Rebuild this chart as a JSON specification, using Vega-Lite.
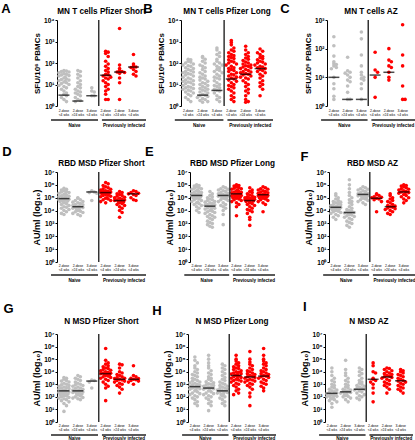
{
"$schema":"https://vega.github.io/schema/vega-lite/v6.json",
"padding":{"left":1,"top":2,"right":1,"bottom":0},
"config":{"font":"Liberation Sans","view":{"stroke":null},"axis":{"grid":false,"domainColor":"#000","tickColor":"#000","labelColor":"#000","titleColor":"#000"},"axisX":{"labels":false,"domain":false,"ticks":false,"title":null},"title":{"color":"#000"}},
"datasets":{
"grp":[{"t":"Naive","lo":1,"hi":3},{"t":"Previously infected","lo":4,"hi":6}],
"xl":[{"g":1,"t":"2-dose\n<4 wks"},{"g":2,"t":"2-dose\n>24 wks"},{"g":3,"t":"3-dose\n<4 wks"},{"g":4,"t":"2-dose\n<4 wks"},{"g":5,"t":"2-dose\n>24 wks"},{"g":6,"t":"3-dose\n<4 wks"}],
"A":[{"g":1,"v":45},{"g":1,"v":42},{"g":1,"v":40},{"g":1,"v":38},{"g":1,"v":35},{"g":1,"v":32},{"g":1,"v":30},{"g":1,"v":28},{"g":1,"v":26},{"g":1,"v":25},{"g":1,"v":22},{"g":1,"v":20},{"g":1,"v":18},{"g":1,"v":17},{"g":1,"v":16},{"g":1,"v":15},{"g":1,"v":14},{"g":1,"v":13},{"g":1,"v":12},{"g":1,"v":11},{"g":1,"v":10},{"g":1,"v":9},{"g":1,"v":8},{"g":1,"v":7},{"g":1,"v":6},{"g":1,"v":5},{"g":1,"v":4},{"g":1,"v":3.5},{"g":1,"v":3},{"g":1,"v":2.5},{"g":1,"v":2},{"g":1,"v":1.6},
{"g":2,"v":45},{"g":2,"v":40},{"g":2,"v":30},{"g":2,"v":25},{"g":2,"v":20},{"g":2,"v":15},{"g":2,"v":12},{"g":2,"v":10},{"g":2,"v":8},{"g":2,"v":7},{"g":2,"v":6},{"g":2,"v":5},{"g":2,"v":4.5},{"g":2,"v":4},{"g":2,"v":3.5},{"g":2,"v":3},{"g":2,"v":2.5},{"g":2,"v":2},{"g":2,"v":1.8},{"g":2,"v":1.6},
{"g":3,"v":7},{"g":3,"v":5},{"g":3,"v":4.5},{"g":3,"v":3},{"g":3,"v":3},
{"g":4,"v":350},{"g":4,"v":320},{"g":4,"v":280},{"g":4,"v":200},{"g":4,"v":120},{"g":4,"v":90},{"g":4,"v":70},{"g":4,"v":55},{"g":4,"v":45},{"g":4,"v":38},{"g":4,"v":30},{"g":4,"v":28},{"g":4,"v":25},{"g":4,"v":22},{"g":4,"v":20},{"g":4,"v":18},{"g":4,"v":15},{"g":4,"v":12},{"g":4,"v":10},{"g":4,"v":8},{"g":4,"v":6},{"g":4,"v":5},{"g":4,"v":3.5},{"g":4,"v":2},{"g":4,"v":2},
{"g":5,"v":4000},{"g":5,"v":80},{"g":5,"v":55},{"g":5,"v":45},{"g":5,"v":40},{"g":5,"v":38},{"g":5,"v":36},{"g":5,"v":33},{"g":5,"v":20},{"g":5,"v":12},{"g":5,"v":2},
{"g":6,"v":250},{"g":6,"v":90},{"g":6,"v":70},{"g":6,"v":65},{"g":6,"v":62},{"g":6,"v":50},{"g":6,"v":40},{"g":6,"v":30},{"g":6,"v":25}],
"B":[{"g":1,"v":150},{"g":1,"v":140},{"g":1,"v":120},{"g":1,"v":110},{"g":1,"v":100},{"g":1,"v":90},{"g":1,"v":80},{"g":1,"v":75},{"g":1,"v":70},{"g":1,"v":60},{"g":1,"v":55},{"g":1,"v":50},{"g":1,"v":45},{"g":1,"v":40},{"g":1,"v":38},{"g":1,"v":35},{"g":1,"v":32},{"g":1,"v":30},{"g":1,"v":28},{"g":1,"v":25},{"g":1,"v":22},{"g":1,"v":20},{"g":1,"v":18},{"g":1,"v":16},{"g":1,"v":15},{"g":1,"v":14},{"g":1,"v":13},{"g":1,"v":12},{"g":1,"v":11},{"g":1,"v":10},{"g":1,"v":9},{"g":1,"v":8},{"g":1,"v":7.5},{"g":1,"v":7},{"g":1,"v":6.5},{"g":1,"v":6},{"g":1,"v":5.5},{"g":1,"v":5},{"g":1,"v":4.5},{"g":1,"v":4},{"g":1,"v":3.5},{"g":1,"v":3},{"g":1,"v":2.5},{"g":1,"v":2},{"g":1,"v":1.6},
{"g":2,"v":200},{"g":2,"v":180},{"g":2,"v":150},{"g":2,"v":120},{"g":2,"v":100},{"g":2,"v":80},{"g":2,"v":70},{"g":2,"v":60},{"g":2,"v":50},{"g":2,"v":40},{"g":2,"v":35},{"g":2,"v":30},{"g":2,"v":25},{"g":2,"v":22},{"g":2,"v":20},{"g":2,"v":18},{"g":2,"v":16},{"g":2,"v":14},{"g":2,"v":12},{"g":2,"v":11},{"g":2,"v":10},{"g":2,"v":9},{"g":2,"v":8},{"g":2,"v":7},{"g":2,"v":6.5},{"g":2,"v":6},{"g":2,"v":5.5},{"g":2,"v":5},{"g":2,"v":4.5},{"g":2,"v":4},{"g":2,"v":3.5},{"g":2,"v":3.2},{"g":2,"v":3},{"g":2,"v":2.8},{"g":2,"v":2.5},{"g":2,"v":2.2},{"g":2,"v":2},{"g":2,"v":1.8},{"g":2,"v":1.6},{"g":2,"v":1.5},
{"g":3,"v":500},{"g":3,"v":400},{"g":3,"v":300},{"g":3,"v":250},{"g":3,"v":200},{"g":3,"v":150},{"g":3,"v":120},{"g":3,"v":100},{"g":3,"v":90},{"g":3,"v":80},{"g":3,"v":70},{"g":3,"v":60},{"g":3,"v":50},{"g":3,"v":45},{"g":3,"v":40},{"g":3,"v":35},{"g":3,"v":30},{"g":3,"v":25},{"g":3,"v":22},{"g":3,"v":20},{"g":3,"v":18},{"g":3,"v":15},{"g":3,"v":12},{"g":3,"v":10},{"g":3,"v":9},{"g":3,"v":8},{"g":3,"v":7},{"g":3,"v":6},{"g":3,"v":5.5},{"g":3,"v":5},{"g":3,"v":4},{"g":3,"v":3},{"g":3,"v":2.5},{"g":3,"v":2},{"g":3,"v":1.6},
{"g":4,"v":1100},{"g":4,"v":900},{"g":4,"v":700},{"g":4,"v":500},{"g":4,"v":400},{"g":4,"v":350},{"g":4,"v":300},{"g":4,"v":250},{"g":4,"v":220},{"g":4,"v":200},{"g":4,"v":180},{"g":4,"v":160},{"g":4,"v":140},{"g":4,"v":120},{"g":4,"v":110},{"g":4,"v":100},{"g":4,"v":90},{"g":4,"v":80},{"g":4,"v":70},{"g":4,"v":60},{"g":4,"v":55},{"g":4,"v":50},{"g":4,"v":45},{"g":4,"v":40},{"g":4,"v":35},{"g":4,"v":30},{"g":4,"v":28},{"g":4,"v":25},{"g":4,"v":22},{"g":4,"v":20},{"g":4,"v":18},{"g":4,"v":16},{"g":4,"v":14},{"g":4,"v":12},{"g":4,"v":10},{"g":4,"v":9},{"g":4,"v":8},{"g":4,"v":7},{"g":4,"v":6},{"g":4,"v":5},{"g":4,"v":4},{"g":4,"v":3},{"g":4,"v":2.5},{"g":4,"v":2},{"g":4,"v":1.6},
{"g":5,"v":600},{"g":5,"v":400},{"g":5,"v":300},{"g":5,"v":250},{"g":5,"v":200},{"g":5,"v":170},{"g":5,"v":150},{"g":5,"v":130},{"g":5,"v":110},{"g":5,"v":100},{"g":5,"v":90},{"g":5,"v":80},{"g":5,"v":75},{"g":5,"v":70},{"g":5,"v":65},{"g":5,"v":60},{"g":5,"v":55},{"g":5,"v":50},{"g":5,"v":45},{"g":5,"v":40},{"g":5,"v":38},{"g":5,"v":35},{"g":5,"v":32},{"g":5,"v":30},{"g":5,"v":28},{"g":5,"v":25},{"g":5,"v":22},{"g":5,"v":20},{"g":5,"v":18},{"g":5,"v":15},{"g":5,"v":12},{"g":5,"v":10},{"g":5,"v":8},{"g":5,"v":6},{"g":5,"v":5},{"g":5,"v":4},{"g":5,"v":3},{"g":5,"v":2},{"g":5,"v":1.6},{"g":5,"v":1.5},
{"g":6,"v":450},{"g":6,"v":350},{"g":6,"v":300},{"g":6,"v":250},{"g":6,"v":200},{"g":6,"v":180},{"g":6,"v":160},{"g":6,"v":140},{"g":6,"v":120},{"g":6,"v":110},{"g":6,"v":100},{"g":6,"v":90},{"g":6,"v":80},{"g":6,"v":70},{"g":6,"v":65},{"g":6,"v":60},{"g":6,"v":55},{"g":6,"v":50},{"g":6,"v":45},{"g":6,"v":40},{"g":6,"v":35},{"g":6,"v":30},{"g":6,"v":25},{"g":6,"v":20},{"g":6,"v":15},{"g":6,"v":12},{"g":6,"v":10},{"g":6,"v":8},{"g":6,"v":6},{"g":6,"v":3}],
"C":[{"g":1,"v":260},{"g":1,"v":126},{"g":1,"v":55},{"g":1,"v":35},{"g":1,"v":30},{"g":1,"v":28},{"g":1,"v":25},{"g":1,"v":22},{"g":1,"v":20},{"g":1,"v":10},{"g":1,"v":6},{"g":1,"v":4},{"g":1,"v":2.2},{"g":1,"v":1.7},
{"g":2,"v":50},{"g":2,"v":17},{"g":2,"v":15},{"g":2,"v":14},{"g":2,"v":12},{"g":2,"v":10},{"g":2,"v":8},{"g":2,"v":7},{"g":2,"v":5},{"g":2,"v":3},{"g":2,"v":1.7},{"g":2,"v":1.7},
{"g":3,"v":380},{"g":3,"v":220},{"g":3,"v":60},{"g":3,"v":25},{"g":3,"v":15},{"g":3,"v":12},{"g":3,"v":10},{"g":3,"v":9},{"g":3,"v":8},{"g":3,"v":6},{"g":3,"v":4},{"g":3,"v":1.7},
{"g":4,"v":75},{"g":4,"v":18},{"g":4,"v":15},{"g":4,"v":10},{"g":4,"v":2},
{"g":5,"v":100},{"g":5,"v":40},{"g":5,"v":35},{"g":5,"v":25},{"g":5,"v":22},{"g":5,"v":15},{"g":5,"v":10},{"g":5,"v":8},
{"g":6,"v":680},{"g":6,"v":60},{"g":6,"v":25},{"g":6,"v":5},{"g":6,"v":1.7},{"g":6,"v":1.7}],
"D":[{"g":1,"v":5.5e5},{"g":1,"v":4.5e5},{"g":1,"v":4e5},{"g":1,"v":3.5e5},{"g":1,"v":3e5},{"g":1,"v":2.8e5},{"g":1,"v":2.5e5},{"g":1,"v":2.2e5},{"g":1,"v":2e5},{"g":1,"v":1.8e5},{"g":1,"v":1.6e5},{"g":1,"v":1.4e5},{"g":1,"v":1.3e5},{"g":1,"v":1.2e5},{"g":1,"v":1.1e5},{"g":1,"v":1e5},{"g":1,"v":9e4},{"g":1,"v":8.5e4},{"g":1,"v":8e4},{"g":1,"v":7.5e4},{"g":1,"v":7e4},{"g":1,"v":6.5e4},{"g":1,"v":6e4},{"g":1,"v":5.5e4},{"g":1,"v":5e4},{"g":1,"v":4.5e4},{"g":1,"v":4e4},{"g":1,"v":3.5e4},{"g":1,"v":3e4},{"g":1,"v":2.5e4},{"g":1,"v":2e4},{"g":1,"v":1.8e4},{"g":1,"v":1.5e4},{"g":1,"v":1.2e4},{"g":1,"v":1e4},{"g":1,"v":8e3},{"g":1,"v":6e3},{"g":1,"v":5e3},
{"g":2,"v":1e5},{"g":2,"v":9e4},{"g":2,"v":7e4},{"g":2,"v":6e4},{"g":2,"v":5e4},{"g":2,"v":4.5e4},{"g":2,"v":4e4},{"g":2,"v":3.5e4},{"g":2,"v":3e4},{"g":2,"v":2.8e4},{"g":2,"v":2.5e4},{"g":2,"v":2.2e4},{"g":2,"v":2e4},{"g":2,"v":1.9e4},{"g":2,"v":1.8e4},{"g":2,"v":1.7e4},{"g":2,"v":1.5e4},{"g":2,"v":1.3e4},{"g":2,"v":1.2e4},{"g":2,"v":1e4},{"g":2,"v":9e3},{"g":2,"v":8e3},{"g":2,"v":7e3},{"g":2,"v":6e3},{"g":2,"v":5e3},{"g":2,"v":4e3},
{"g":3,"v":3.5e5},{"g":3,"v":2.8e5},{"g":3,"v":2.5e5},{"g":3,"v":2.2e5},{"g":3,"v":6e4},
{"g":4,"v":1.5e6},{"g":4,"v":1.2e6},{"g":4,"v":9e5},{"g":4,"v":7e5},{"g":4,"v":6e5},{"g":4,"v":5e5},{"g":4,"v":4.5e5},{"g":4,"v":4e5},{"g":4,"v":3.5e5},{"g":4,"v":3.2e5},{"g":4,"v":3e5},{"g":4,"v":2.8e5},{"g":4,"v":2.6e5},{"g":4,"v":2.5e5},{"g":4,"v":2.4e5},{"g":4,"v":2.2e5},{"g":4,"v":2e5},{"g":4,"v":1.8e5},{"g":4,"v":1.6e5},{"g":4,"v":1.5e5},{"g":4,"v":1.3e5},{"g":4,"v":1.2e5},{"g":4,"v":1e5},{"g":4,"v":9e4},{"g":4,"v":8e4},{"g":4,"v":7e4},{"g":4,"v":6e4},{"g":4,"v":5e4},{"g":4,"v":4e4},
{"g":5,"v":3e5},{"g":5,"v":2.5e5},{"g":5,"v":2e5},{"g":5,"v":1.8e5},{"g":5,"v":1.5e5},{"g":5,"v":1.3e5},{"g":5,"v":1.1e5},{"g":5,"v":1e5},{"g":5,"v":9e4},{"g":5,"v":8e4},{"g":5,"v":7e4},{"g":5,"v":6.5e4},{"g":5,"v":6e4},{"g":5,"v":5.5e4},{"g":5,"v":5e4},{"g":5,"v":4.5e4},{"g":5,"v":4e4},{"g":5,"v":3.5e4},{"g":5,"v":3e4},{"g":5,"v":2.5e4},{"g":5,"v":2e4},{"g":5,"v":1.5e4},{"g":5,"v":1e4},{"g":5,"v":7e3},{"g":5,"v":3e3},
{"g":6,"v":3.5e5},{"g":6,"v":3e5},{"g":6,"v":2.5e5},{"g":6,"v":2.2e5},{"g":6,"v":2e5},{"g":6,"v":1.8e5},{"g":6,"v":1.5e5},{"g":6,"v":1e5},{"g":6,"v":7e4},{"g":6,"v":6e4}],
"E":[{"g":1,"v":1e6},{"g":1,"v":9e5},{"g":1,"v":8e5},{"g":1,"v":7e5},{"g":1,"v":6e5},{"g":1,"v":5.5e5},{"g":1,"v":5e5},{"g":1,"v":4.5e5},{"g":1,"v":4e5},{"g":1,"v":3.5e5},{"g":1,"v":3e5},{"g":1,"v":2.8e5},{"g":1,"v":2.5e5},{"g":1,"v":2.2e5},{"g":1,"v":2e5},{"g":1,"v":1.9e5},{"g":1,"v":1.8e5},{"g":1,"v":1.7e5},{"g":1,"v":1.6e5},{"g":1,"v":1.5e5},{"g":1,"v":1.4e5},{"g":1,"v":1.3e5},{"g":1,"v":1.2e5},{"g":1,"v":1.1e5},{"g":1,"v":1e5},{"g":1,"v":9e4},{"g":1,"v":8e4},{"g":1,"v":7e4},{"g":1,"v":6e4},{"g":1,"v":5e4},{"g":1,"v":4.5e4},{"g":1,"v":4e4},{"g":1,"v":3.5e4},{"g":1,"v":3e4},{"g":1,"v":2.5e4},{"g":1,"v":2e4},{"g":1,"v":1.5e4},{"g":1,"v":1e4},{"g":1,"v":7e3},
{"g":2,"v":3e5},{"g":2,"v":2e5},{"g":2,"v":1.5e5},{"g":2,"v":1.2e5},{"g":2,"v":1e5},{"g":2,"v":8e4},{"g":2,"v":7e4},{"g":2,"v":6e4},{"g":2,"v":5e4},{"g":2,"v":4.5e4},{"g":2,"v":4e4},{"g":2,"v":3.5e4},{"g":2,"v":3e4},{"g":2,"v":2.8e4},{"g":2,"v":2.6e4},{"g":2,"v":2.4e4},{"g":2,"v":2.2e4},{"g":2,"v":2e4},{"g":2,"v":1.8e4},{"g":2,"v":1.6e4},{"g":2,"v":1.5e4},{"g":2,"v":1.3e4},{"g":2,"v":1.2e4},{"g":2,"v":1e4},{"g":2,"v":9e3},{"g":2,"v":8e3},{"g":2,"v":7e3},{"g":2,"v":6e3},{"g":2,"v":5e3},{"g":2,"v":4e3},{"g":2,"v":3.5e3},{"g":2,"v":3e3},{"g":2,"v":2.5e3},{"g":2,"v":2e3},{"g":2,"v":1.5e3},{"g":2,"v":1.2e3},{"g":2,"v":1e3},{"g":2,"v":800},{"g":2,"v":600},{"g":2,"v":500},
{"g":3,"v":7e5},{"g":3,"v":6e5},{"g":3,"v":5e5},{"g":3,"v":4.5e5},{"g":3,"v":4e5},{"g":3,"v":3.5e5},{"g":3,"v":3e5},{"g":3,"v":2.5e5},{"g":3,"v":2.2e5},{"g":3,"v":2e5},{"g":3,"v":1.8e5},{"g":3,"v":1.6e5},{"g":3,"v":1.5e5},{"g":3,"v":1.4e5},{"g":3,"v":1.3e5},{"g":3,"v":1.2e5},{"g":3,"v":1.1e5},{"g":3,"v":1e5},{"g":3,"v":9e4},{"g":3,"v":8e4},{"g":3,"v":7e4},{"g":3,"v":6e4},{"g":3,"v":5e4},{"g":3,"v":4e4},{"g":3,"v":3e4},{"g":3,"v":2.5e4},{"g":3,"v":2e4},{"g":3,"v":1.5e4},{"g":3,"v":1e4},{"g":3,"v":5e3},{"g":3,"v":800},
{"g":4,"v":1e6},{"g":4,"v":9e5},{"g":4,"v":8e5},{"g":4,"v":7e5},{"g":4,"v":6e5},{"g":4,"v":5.5e5},{"g":4,"v":5e5},{"g":4,"v":4.5e5},{"g":4,"v":4e5},{"g":4,"v":3.5e5},{"g":4,"v":3e5},{"g":4,"v":2.8e5},{"g":4,"v":2.6e5},{"g":4,"v":2.4e5},{"g":4,"v":2.2e5},{"g":4,"v":2e5},{"g":4,"v":1.9e5},{"g":4,"v":1.8e5},{"g":4,"v":1.7e5},{"g":4,"v":1.6e5},{"g":4,"v":1.5e5},{"g":4,"v":1.4e5},{"g":4,"v":1.3e5},{"g":4,"v":1.2e5},{"g":4,"v":1.1e5},{"g":4,"v":1e5},{"g":4,"v":9e4},{"g":4,"v":8e4},{"g":4,"v":7e4},{"g":4,"v":6e4},{"g":4,"v":5e4},{"g":4,"v":4e4},{"g":4,"v":3e4},{"g":4,"v":2e4},{"g":4,"v":4e3},
{"g":5,"v":6e5},{"g":5,"v":4e5},{"g":5,"v":3e5},{"g":5,"v":2.5e5},{"g":5,"v":2e5},{"g":5,"v":1.6e5},{"g":5,"v":1.4e5},{"g":5,"v":1.2e5},{"g":5,"v":1.1e5},{"g":5,"v":1e5},{"g":5,"v":9e4},{"g":5,"v":8.5e4},{"g":5,"v":8e4},{"g":5,"v":7.5e4},{"g":5,"v":7e4},{"g":5,"v":6.5e4},{"g":5,"v":6e4},{"g":5,"v":5.5e4},{"g":5,"v":5e4},{"g":5,"v":4.5e4},{"g":5,"v":4e4},{"g":5,"v":3.5e4},{"g":5,"v":3e4},{"g":5,"v":2.5e4},{"g":5,"v":2e4},{"g":5,"v":1.5e4},{"g":5,"v":1.2e4},{"g":5,"v":1e4},{"g":5,"v":8e3},{"g":5,"v":6e3},{"g":5,"v":3e3},{"g":5,"v":2e3},{"g":5,"v":700},
{"g":6,"v":7e5},{"g":6,"v":6e5},{"g":6,"v":5e5},{"g":6,"v":4.5e5},{"g":6,"v":4e5},{"g":6,"v":3.5e5},{"g":6,"v":3e5},{"g":6,"v":2.7e5},{"g":6,"v":2.4e5},{"g":6,"v":2.2e5},{"g":6,"v":2e5},{"g":6,"v":1.8e5},{"g":6,"v":1.7e5},{"g":6,"v":1.6e5},{"g":6,"v":1.5e5},{"g":6,"v":1.4e5},{"g":6,"v":1.3e5},{"g":6,"v":1.2e5},{"g":6,"v":1.1e5},{"g":6,"v":1e5},{"g":6,"v":9e4},{"g":6,"v":8e4},{"g":6,"v":7e4},{"g":6,"v":6e4},{"g":6,"v":5e4},{"g":6,"v":4e4},{"g":6,"v":3e4},{"g":6,"v":8e3}],
"F":[{"g":1,"v":2e5},{"g":1,"v":1.5e5},{"g":1,"v":1e5},{"g":1,"v":8e4},{"g":1,"v":6e4},{"g":1,"v":5e4},{"g":1,"v":4.5e4},{"g":1,"v":4e4},{"g":1,"v":3.5e4},{"g":1,"v":3e4},{"g":1,"v":2.8e4},{"g":1,"v":2.5e4},{"g":1,"v":2.2e4},{"g":1,"v":2e4},{"g":1,"v":1.9e4},{"g":1,"v":1.8e4},{"g":1,"v":1.7e4},{"g":1,"v":1.6e4},{"g":1,"v":1.5e4},{"g":1,"v":1.4e4},{"g":1,"v":1.3e4},{"g":1,"v":1.2e4},{"g":1,"v":1.1e4},{"g":1,"v":1e4},{"g":1,"v":9e3},{"g":1,"v":8e3},{"g":1,"v":7e3},{"g":1,"v":6e3},{"g":1,"v":5e3},{"g":1,"v":4e3},{"g":1,"v":3e3},{"g":1,"v":2e3},
{"g":2,"v":2.5e6},{"g":2,"v":1e6},{"g":2,"v":5e5},{"g":2,"v":2.5e5},{"g":2,"v":1.5e5},{"g":2,"v":1e5},{"g":2,"v":7e4},{"g":2,"v":5e4},{"g":2,"v":4e4},{"g":2,"v":3e4},{"g":2,"v":2e4},{"g":2,"v":1.5e4},{"g":2,"v":1.2e4},{"g":2,"v":1e4},{"g":2,"v":9e3},{"g":2,"v":8e3},{"g":2,"v":7e3},{"g":2,"v":6.5e3},{"g":2,"v":6e3},{"g":2,"v":5.5e3},{"g":2,"v":5e3},{"g":2,"v":4.5e3},{"g":2,"v":4e3},{"g":2,"v":3.5e3},{"g":2,"v":3e3},{"g":2,"v":2.5e3},{"g":2,"v":2e3},{"g":2,"v":1.5e3},{"g":2,"v":1.2e3},{"g":2,"v":1e3},{"g":2,"v":700},{"g":2,"v":500},
{"g":3,"v":7e5},{"g":3,"v":6e5},{"g":3,"v":5e5},{"g":3,"v":4.5e5},{"g":3,"v":4e5},{"g":3,"v":3.5e5},{"g":3,"v":3e5},{"g":3,"v":2.5e5},{"g":3,"v":2.2e5},{"g":3,"v":2e5},{"g":3,"v":1.9e5},{"g":3,"v":1.8e5},{"g":3,"v":1.7e5},{"g":3,"v":1.6e5},{"g":3,"v":1.5e5},{"g":3,"v":1.4e5},{"g":3,"v":1.3e5},{"g":3,"v":1.2e5},{"g":3,"v":1e5},{"g":3,"v":9e4},{"g":3,"v":8e4},{"g":3,"v":7e4},{"g":3,"v":6e4},{"g":3,"v":5e4},{"g":3,"v":4e4},{"g":3,"v":3e4},
{"g":4,"v":2e5},{"g":4,"v":1.8e5},{"g":4,"v":1.5e5},{"g":4,"v":1.2e5},{"g":4,"v":1.1e5},{"g":4,"v":1e5},{"g":4,"v":9e4},{"g":4,"v":8e4},{"g":4,"v":7e4},{"g":4,"v":5e4},{"g":4,"v":8e3},
{"g":5,"v":2e5},{"g":5,"v":1.5e5},{"g":5,"v":1e5},{"g":5,"v":8e4},{"g":5,"v":6e4},{"g":5,"v":5e4},{"g":5,"v":4e4},{"g":5,"v":3e4},{"g":5,"v":2.5e4},{"g":5,"v":2.2e4},{"g":5,"v":2e4},{"g":5,"v":1.8e4},{"g":5,"v":1.6e4},{"g":5,"v":1.4e4},{"g":5,"v":1.2e4},{"g":5,"v":1e4},{"g":5,"v":8e3},{"g":5,"v":6e3},{"g":5,"v":5e3},
{"g":6,"v":1e6},{"g":6,"v":9e5},{"g":6,"v":8e5},{"g":6,"v":7e5},{"g":6,"v":6e5},{"g":6,"v":5e5},{"g":6,"v":4.5e5},{"g":6,"v":4e5},{"g":6,"v":3.5e5},{"g":6,"v":3e5},{"g":6,"v":2.8e5},{"g":6,"v":2.5e5},{"g":6,"v":2.2e5},{"g":6,"v":2e5},{"g":6,"v":1.8e5},{"g":6,"v":1.5e5},{"g":6,"v":1.2e5},{"g":6,"v":1e5},{"g":6,"v":8e4},{"g":6,"v":6e4},{"g":6,"v":4e4}],
"G":[{"g":1,"v":3500},{"g":1,"v":3000},{"g":1,"v":2500},{"g":1,"v":2000},{"g":1,"v":1800},{"g":1,"v":1500},{"g":1,"v":1200},{"g":1,"v":1000},{"g":1,"v":900},{"g":1,"v":800},{"g":1,"v":700},{"g":1,"v":600},{"g":1,"v":550},{"g":1,"v":500},{"g":1,"v":450},{"g":1,"v":400},{"g":1,"v":350},{"g":1,"v":320},{"g":1,"v":300},{"g":1,"v":280},{"g":1,"v":260},{"g":1,"v":240},{"g":1,"v":220},{"g":1,"v":200},{"g":1,"v":180},{"g":1,"v":160},{"g":1,"v":150},{"g":1,"v":130},{"g":1,"v":120},{"g":1,"v":100},{"g":1,"v":90},{"g":1,"v":80},{"g":1,"v":70},{"g":1,"v":60},{"g":1,"v":50},{"g":1,"v":40},{"g":1,"v":30},{"g":1,"v":20},{"g":1,"v":7},
{"g":2,"v":5000},{"g":2,"v":4000},{"g":2,"v":3000},{"g":2,"v":2500},{"g":2,"v":2000},{"g":2,"v":1500},{"g":2,"v":1200},{"g":2,"v":1000},{"g":2,"v":900},{"g":2,"v":800},{"g":2,"v":700},{"g":2,"v":600},{"g":2,"v":500},{"g":2,"v":450},{"g":2,"v":400},{"g":2,"v":350},{"g":2,"v":320},{"g":2,"v":300},{"g":2,"v":280},{"g":2,"v":260},{"g":2,"v":240},{"g":2,"v":220},{"g":2,"v":200},{"g":2,"v":180},{"g":2,"v":160},{"g":2,"v":140},{"g":2,"v":120},{"g":2,"v":100},{"g":2,"v":90},{"g":2,"v":80},{"g":2,"v":70},{"g":2,"v":60},
{"g":3,"v":2200},{"g":3,"v":2000},{"g":3,"v":1500},{"g":3,"v":500},
{"g":4,"v":7e5},{"g":4,"v":8e4},{"g":4,"v":5e4},{"g":4,"v":4e4},{"g":4,"v":3e4},{"g":4,"v":2.5e4},{"g":4,"v":2e4},{"g":4,"v":1.8e4},{"g":4,"v":1.5e4},{"g":4,"v":1.3e4},{"g":4,"v":1.2e4},{"g":4,"v":1e4},{"g":4,"v":9000},{"g":4,"v":8000},{"g":4,"v":7500},{"g":4,"v":7000},{"g":4,"v":6500},{"g":4,"v":6000},{"g":4,"v":5500},{"g":4,"v":5000},{"g":4,"v":4500},{"g":4,"v":4000},{"g":4,"v":3500},{"g":4,"v":3000},{"g":4,"v":2500},{"g":4,"v":2000},{"g":4,"v":1500},{"g":4,"v":1000},{"g":4,"v":700},{"g":4,"v":500},{"g":4,"v":50},
{"g":5,"v":4e4},{"g":5,"v":3.5e4},{"g":5,"v":2e4},{"g":5,"v":1e4},{"g":5,"v":8000},{"g":5,"v":6000},{"g":5,"v":5000},{"g":5,"v":4000},{"g":5,"v":3500},{"g":5,"v":3000},{"g":5,"v":2800},{"g":5,"v":2500},{"g":5,"v":2200},{"g":5,"v":2000},{"g":5,"v":1800},{"g":5,"v":1500},{"g":5,"v":1200},{"g":5,"v":1000},{"g":5,"v":800},{"g":5,"v":600},{"g":5,"v":400},{"g":5,"v":200},
{"g":6,"v":3e4},{"g":6,"v":5000},{"g":6,"v":4000},{"g":6,"v":3000},{"g":6,"v":2800},{"g":6,"v":2500},{"g":6,"v":2300},{"g":6,"v":2000},{"g":6,"v":1800},{"g":6,"v":1500},{"g":6,"v":1000}],
"H":[{"g":1,"v":1.5e5},{"g":1,"v":8e4},{"g":1,"v":5e4},{"g":1,"v":3e4},{"g":1,"v":2e4},{"g":1,"v":1.5e4},{"g":1,"v":1e4},{"g":1,"v":8000},{"g":1,"v":6000},{"g":1,"v":5000},{"g":1,"v":4000},{"g":1,"v":3000},{"g":1,"v":2500},{"g":1,"v":2000},{"g":1,"v":1800},{"g":1,"v":1500},{"g":1,"v":1300},{"g":1,"v":1200},{"g":1,"v":1000},{"g":1,"v":900},{"g":1,"v":800},{"g":1,"v":700},{"g":1,"v":650},{"g":1,"v":600},{"g":1,"v":550},{"g":1,"v":500},{"g":1,"v":450},{"g":1,"v":400},{"g":1,"v":350},{"g":1,"v":300},{"g":1,"v":250},{"g":1,"v":200},{"g":1,"v":180},{"g":1,"v":150},{"g":1,"v":120},{"g":1,"v":100},{"g":1,"v":80},{"g":1,"v":60},{"g":1,"v":40},{"g":1,"v":30},{"g":1,"v":20},
{"g":2,"v":2e5},{"g":2,"v":1e5},{"g":2,"v":5e4},{"g":2,"v":3e4},{"g":2,"v":2e4},{"g":2,"v":1.2e4},{"g":2,"v":8000},{"g":2,"v":6000},{"g":2,"v":4000},{"g":2,"v":3000},{"g":2,"v":2500},{"g":2,"v":2000},{"g":2,"v":1600},{"g":2,"v":1300},{"g":2,"v":1100},{"g":2,"v":1000},{"g":2,"v":900},{"g":2,"v":800},{"g":2,"v":700},{"g":2,"v":600},{"g":2,"v":550},{"g":2,"v":500},{"g":2,"v":450},{"g":2,"v":400},{"g":2,"v":350},{"g":2,"v":300},{"g":2,"v":250},{"g":2,"v":200},{"g":2,"v":180},{"g":2,"v":150},{"g":2,"v":120},{"g":2,"v":100},{"g":2,"v":80},{"g":2,"v":60},{"g":2,"v":40},{"g":2,"v":30},{"g":2,"v":20},{"g":2,"v":8},
{"g":3,"v":4e4},{"g":3,"v":3e4},{"g":3,"v":2e4},{"g":3,"v":1.5e4},{"g":3,"v":1e4},{"g":3,"v":7000},{"g":3,"v":5000},{"g":3,"v":3500},{"g":3,"v":2500},{"g":3,"v":2000},{"g":3,"v":1500},{"g":3,"v":1200},{"g":3,"v":1000},{"g":3,"v":800},{"g":3,"v":700},{"g":3,"v":600},{"g":3,"v":500},{"g":3,"v":450},{"g":3,"v":400},{"g":3,"v":350},{"g":3,"v":300},{"g":3,"v":280},{"g":3,"v":250},{"g":3,"v":220},{"g":3,"v":200},{"g":3,"v":180},{"g":3,"v":150},{"g":3,"v":120},{"g":3,"v":100},{"g":3,"v":80},{"g":3,"v":60},{"g":3,"v":40},{"g":3,"v":30},{"g":3,"v":20},
{"g":4,"v":2e5},{"g":4,"v":1e5},{"g":4,"v":7e4},{"g":4,"v":5e4},{"g":4,"v":4e4},{"g":4,"v":3e4},{"g":4,"v":2.5e4},{"g":4,"v":2e4},{"g":4,"v":1.8e4},{"g":4,"v":1.5e4},{"g":4,"v":1.2e4},{"g":4,"v":1e4},{"g":4,"v":9000},{"g":4,"v":8000},{"g":4,"v":7000},{"g":4,"v":6500},{"g":4,"v":6000},{"g":4,"v":5500},{"g":4,"v":5000},{"g":4,"v":4500},{"g":4,"v":4000},{"g":4,"v":3500},{"g":4,"v":3000},{"g":4,"v":2800},{"g":4,"v":2500},{"g":4,"v":2200},{"g":4,"v":2000},{"g":4,"v":1800},{"g":4,"v":1500},{"g":4,"v":1200},{"g":4,"v":1000},{"g":4,"v":800},{"g":4,"v":600},{"g":4,"v":400},{"g":4,"v":300},{"g":4,"v":200},{"g":4,"v":150},
{"g":5,"v":4e5},{"g":5,"v":1e5},{"g":5,"v":6e4},{"g":5,"v":4e4},{"g":5,"v":3e4},{"g":5,"v":2e4},{"g":5,"v":1.5e4},{"g":5,"v":1.2e4},{"g":5,"v":1e4},{"g":5,"v":8000},{"g":5,"v":7000},{"g":5,"v":6000},{"g":5,"v":5000},{"g":5,"v":4500},{"g":5,"v":4000},{"g":5,"v":3500},{"g":5,"v":3000},{"g":5,"v":2500},{"g":5,"v":2200},{"g":5,"v":2000},{"g":5,"v":1800},{"g":5,"v":1500},{"g":5,"v":1200},{"g":5,"v":1000},{"g":5,"v":800},{"g":5,"v":600},{"g":5,"v":400},{"g":5,"v":200},{"g":5,"v":100},{"g":5,"v":20},
{"g":6,"v":7e5},{"g":6,"v":2e5},{"g":6,"v":1e5},{"g":6,"v":7e4},{"g":6,"v":5e4},{"g":6,"v":4e4},{"g":6,"v":3e4},{"g":6,"v":2e4},{"g":6,"v":1.5e4},{"g":6,"v":1.2e4},{"g":6,"v":1e4},{"g":6,"v":8000},{"g":6,"v":7000},{"g":6,"v":6000},{"g":6,"v":5000},{"g":6,"v":4500},{"g":6,"v":4000},{"g":6,"v":3500},{"g":6,"v":3000},{"g":6,"v":2500},{"g":6,"v":2000},{"g":6,"v":1500},{"g":6,"v":1200},{"g":6,"v":1000},{"g":6,"v":700},{"g":6,"v":500},{"g":6,"v":300}],
"I":[{"g":1,"v":2e4},{"g":1,"v":1e4},{"g":1,"v":5000},{"g":1,"v":3000},{"g":1,"v":2000},{"g":1,"v":1500},{"g":1,"v":1000},{"g":1,"v":800},{"g":1,"v":600},{"g":1,"v":500},{"g":1,"v":400},{"g":1,"v":350},{"g":1,"v":300},{"g":1,"v":250},{"g":1,"v":220},{"g":1,"v":200},{"g":1,"v":180},{"g":1,"v":160},{"g":1,"v":150},{"g":1,"v":140},{"g":1,"v":130},{"g":1,"v":120},{"g":1,"v":110},{"g":1,"v":100},{"g":1,"v":90},{"g":1,"v":80},{"g":1,"v":70},{"g":1,"v":60},{"g":1,"v":50},{"g":1,"v":40},{"g":1,"v":30},{"g":1,"v":15},
{"g":2,"v":8e4},{"g":2,"v":1.5e4},{"g":2,"v":8000},{"g":2,"v":5000},{"g":2,"v":3000},{"g":2,"v":2000},{"g":2,"v":1500},{"g":2,"v":1000},{"g":2,"v":800},{"g":2,"v":600},{"g":2,"v":500},{"g":2,"v":400},{"g":2,"v":350},{"g":2,"v":300},{"g":2,"v":280},{"g":2,"v":250},{"g":2,"v":220},{"g":2,"v":200},{"g":2,"v":180},{"g":2,"v":150},{"g":2,"v":130},{"g":2,"v":110},{"g":2,"v":100},{"g":2,"v":80},{"g":2,"v":60},{"g":2,"v":40},
{"g":3,"v":2e4},{"g":3,"v":1.5e4},{"g":3,"v":1e4},{"g":3,"v":7000},{"g":3,"v":5000},{"g":3,"v":3000},{"g":3,"v":2000},{"g":3,"v":1500},{"g":3,"v":1200},{"g":3,"v":1000},{"g":3,"v":800},{"g":3,"v":700},{"g":3,"v":600},{"g":3,"v":500},{"g":3,"v":450},{"g":3,"v":400},{"g":3,"v":350},{"g":3,"v":300},{"g":3,"v":250},{"g":3,"v":200},{"g":3,"v":150},{"g":3,"v":120},{"g":3,"v":100},{"g":3,"v":80},{"g":3,"v":60},
{"g":4,"v":5e4},{"g":4,"v":3e4},{"g":4,"v":1e4},{"g":4,"v":8000},{"g":4,"v":3000},{"g":4,"v":2500},{"g":4,"v":2000},{"g":4,"v":1500},{"g":4,"v":1000},{"g":4,"v":500},{"g":4,"v":200},{"g":4,"v":40},
{"g":5,"v":2e4},{"g":5,"v":1.8e4},{"g":5,"v":1.5e4},{"g":5,"v":1.2e4},{"g":5,"v":1e4},{"g":5,"v":8000},{"g":5,"v":7000},{"g":5,"v":6000},{"g":5,"v":5000},{"g":5,"v":4500},{"g":5,"v":4000},{"g":5,"v":3500},{"g":5,"v":3000},{"g":5,"v":2500},{"g":5,"v":2000},{"g":5,"v":1500},{"g":5,"v":1200},{"g":5,"v":1000},{"g":5,"v":800},{"g":5,"v":600},{"g":5,"v":400},{"g":5,"v":200},
{"g":6,"v":1.5e4},{"g":6,"v":1.2e4},{"g":6,"v":1e4},{"g":6,"v":8000},{"g":6,"v":6000},{"g":6,"v":5000},{"g":6,"v":4000},{"g":6,"v":3000},{"g":6,"v":2500},{"g":6,"v":2000},{"g":6,"v":1800},{"g":6,"v":1500},{"g":6,"v":1200},{"g":6,"v":1000},{"g":6,"v":800},{"g":6,"v":600},{"g":6,"v":500},{"g":6,"v":400},{"g":6,"v":300},{"g":6,"v":200}]
},
"vconcat":[
{"hconcat":[
{"title":{"text":"A","orient":"left","anchor":"end","angle":0,"align":"left","baseline":"top","fontSize":13,"fontWeight":"bold","offset":23,"dy":-4},
 "vconcat":[{"width":89,"height":86,"title":{"text":"MN T cells Pfizer Short","fontSize":8.2,"fontWeight":"bold","offset":1,"frame":"group"},
 "layer":[
 {"data":{"name":"A"},"transform":[{"calculate":"floor(log(datum.v)/LN10/0.19)","as":"b"},{"window":[{"op":"row_number","as":"r"}],"groupby":["g","b"],"sort":[{"field":"v","order":"descending"}]},{"calculate":"datum.g+[0,1,-1,2,-2,0.5,-0.5,1.5,-1.5][(datum.r-1)%9]*0.18","as":"x"}],
  "mark":{"type":"circle","size":13,"opacity":1},
  "encoding":{"x":{"field":"x","type":"quantitative","scale":{"domain":[0.5,6.9],"nice":false,"zero":false}},
  "y":{"field":"v","type":"quantitative","scale":{"type":"log","domain":[1,10000],"nice":false},"axis":{"values":[1,10,100,1000,10000],"labelExpr":"'10'+['⁰','¹','²','³','⁴','⁵','⁶','⁷'][round(log(datum.value)/LN10)]","title":"SFU/10⁶ PBMCs","titleFontSize":8,"titleFontWeight":"bold","titlePadding":2,"labelFontSize":6.5,"labelFontWeight":"bold","labelPadding":1,"tickSize":2}},
  "color":{"condition":{"test":"datum.g<=3","value":"#bfbfbf"},"value":"#ff0000"}}},
 {"data":{"values":[{}]},"mark":{"type":"rule","color":"#333","strokeWidth":1.5},"encoding":{"x":{"datum":3.5,"type":"quantitative"}}},
 {"data":{"values":[{"g":1,"m":3.2},{"g":2,"m":1.7},{"g":3,"m":3},{"g":4,"m":27},{"g":5,"m":38},{"g":6,"m":65}]},"mark":{"type":"tick","orient":"horizontal","size":11,"thickness":1.5,"color":"#000"},"encoding":{"x":{"field":"g","type":"quantitative"},"y":{"field":"m","type":"quantitative"}}},
 {"data":{"name":"xl"},"mark":{"type":"text","fontSize":3.4,"lineBreak":"\n","baseline":"top","lineHeight":4},"encoding":{"x":{"field":"g","type":"quantitative"},"y":{"datum":0.725,"type":"quantitative"},"text":{"field":"t"}}},
 {"data":{"name":"grp"},"transform":[{"calculate":"datum.lo*1.22-1.15","as":"a"},{"calculate":"datum.hi*1.15","as":"b2"}],"mark":{"type":"rule","strokeWidth":1.5,"color":"#222"},"encoding":{"x":{"field":"a","type":"quantitative"},"x2":{"field":"b2"},"y":{"datum":0.223,"type":"quantitative"}}},
 {"data":{"name":"grp"},"transform":[{"calculate":"(datum.lo*1.22-1.15+datum.hi*1.15)/2","as":"c"}],"mark":{"type":"text","fontSize":4.6,"fontWeight":"bold","baseline":"middle"},"encoding":{"x":{"field":"c","type":"quantitative"},"y":{"datum":0.121,"type":"quantitative"},"text":{"field":"t"}}}
 ]}]},
{"hconcat":[
{"title":{"text":"B","orient":"left","anchor":"end","angle":0,"align":"left","baseline":"top","fontSize":13,"fontWeight":"bold","offset":5,"dy":-4},
 "vconcat":[{"width":92,"height":86,"title":{"text":"MN T cells Pfizer Long","fontSize":8.2,"fontWeight":"bold","offset":1,"frame":"group"},
 "layer":[
 {"data":{"name":"B"},"transform":[{"calculate":"floor(log(datum.v)/LN10/0.19)","as":"b"},{"window":[{"op":"row_number","as":"r"}],"groupby":["g","b"],"sort":[{"field":"v","order":"descending"}]},{"calculate":"datum.g+[0,1,-1,2,-2,0.5,-0.5,1.5,-1.5][(datum.r-1)%9]*0.18","as":"x"}],
  "mark":{"type":"circle","size":13,"opacity":1},
  "encoding":{"x":{"field":"x","type":"quantitative","scale":{"domain":[0.5,6.9],"nice":false,"zero":false}},
  "y":{"field":"v","type":"quantitative","scale":{"type":"log","domain":[1,10000],"nice":false},"axis":{"values":[1,10,100,1000,10000],"labelExpr":"'10'+['⁰','¹','²','³','⁴','⁵','⁶','⁷'][round(log(datum.value)/LN10)]","title":"SFU/10⁶ PBMCs","titleFontSize":8,"titleFontWeight":"bold","titlePadding":2,"labelFontSize":6.5,"labelFontWeight":"bold","labelPadding":1,"tickSize":2}},
  "color":{"condition":{"test":"datum.g<=3","value":"#bfbfbf"},"value":"#ff0000"}}},
 {"data":{"values":[{}]},"mark":{"type":"rule","color":"#333","strokeWidth":1.5},"encoding":{"x":{"datum":3.5,"type":"quantitative"}}},
 {"data":{"values":[{"g":2,"m":3.2},{"g":3,"m":5.3},{"g":4,"m":18},{"g":5,"m":30},{"g":6,"m":55}]},"mark":{"type":"tick","orient":"horizontal","size":11,"thickness":1.5,"color":"#000"},"encoding":{"x":{"field":"g","type":"quantitative"},"y":{"field":"m","type":"quantitative"}}},
 {"data":{"name":"xl"},"mark":{"type":"text","fontSize":3.4,"lineBreak":"\n","baseline":"top","lineHeight":4},"encoding":{"x":{"field":"g","type":"quantitative"},"y":{"datum":0.725,"type":"quantitative"},"text":{"field":"t"}}},
 {"data":{"name":"grp"},"transform":[{"calculate":"datum.lo*1.22-1.15","as":"a"},{"calculate":"datum.hi*1.15","as":"b2"}],"mark":{"type":"rule","strokeWidth":1.5,"color":"#222"},"encoding":{"x":{"field":"a","type":"quantitative"},"x2":{"field":"b2"},"y":{"datum":0.223,"type":"quantitative"}}},
 {"data":{"name":"grp"},"transform":[{"calculate":"(datum.lo*1.22-1.15+datum.hi*1.15)/2","as":"c"}],"mark":{"type":"text","fontSize":4.6,"fontWeight":"bold","baseline":"middle"},"encoding":{"x":{"field":"c","type":"quantitative"},"y":{"datum":0.121,"type":"quantitative"},"text":{"field":"t"}}}
 ]}]},
{"title":{"text":"C","orient":"left","anchor":"end","angle":0,"align":"left","baseline":"top","fontSize":13,"fontWeight":"bold","offset":15,"dy":-4},
 "vconcat":[{"width":88,"height":86,"title":{"text":"MN T cells AZ","fontSize":8.2,"fontWeight":"bold","offset":1,"frame":"group"},
 "layer":[
 {"data":{"name":"C"},"transform":[{"calculate":"floor(log(datum.v)/LN10/0.14)","as":"b"},{"window":[{"op":"row_number","as":"r"}],"groupby":["g","b"],"sort":[{"field":"v","order":"descending"}]},{"calculate":"datum.g+[0,1,-1,2,-2,0.5,-0.5,1.5,-1.5][(datum.r-1)%9]*0.18","as":"x"}],
  "mark":{"type":"circle","size":13,"opacity":1},
  "encoding":{"x":{"field":"x","type":"quantitative","scale":{"domain":[0.5,6.9],"nice":false,"zero":false}},
  "y":{"field":"v","type":"quantitative","scale":{"type":"log","domain":[1,1000],"nice":false},"axis":{"values":[1,10,100,1000],"labelExpr":"'10'+['⁰','¹','²','³','⁴','⁵','⁶','⁷'][round(log(datum.value)/LN10)]","title":"SFU/10⁶ PBMCs","titleFontSize":8,"titleFontWeight":"bold","titlePadding":2,"labelFontSize":6.5,"labelFontWeight":"bold","labelPadding":1,"tickSize":2}},
  "color":{"condition":{"test":"datum.g<=3","value":"#bfbfbf"},"value":"#ff0000"}}},
 {"data":{"values":[{}]},"mark":{"type":"rule","color":"#333","strokeWidth":1.5},"encoding":{"x":{"datum":3.5,"type":"quantitative"}}},
 {"data":{"values":[{"g":1,"m":10},{"g":2,"m":1.7},{"g":3,"m":1.7},{"g":4,"m":12},{"g":5,"m":15}]},"mark":{"type":"tick","orient":"horizontal","size":11,"thickness":1.5,"color":"#000"},"encoding":{"x":{"field":"g","type":"quantitative"},"y":{"field":"m","type":"quantitative"}}},
 {"data":{"name":"xl"},"mark":{"type":"text","fontSize":3.4,"lineBreak":"\n","baseline":"top","lineHeight":4},"encoding":{"x":{"field":"g","type":"quantitative"},"y":{"datum":0.786,"type":"quantitative"},"text":{"field":"t"}}},
 {"data":{"name":"grp"},"transform":[{"calculate":"datum.lo*1.22-1.15","as":"a"},{"calculate":"datum.hi*1.15","as":"b2"}],"mark":{"type":"rule","strokeWidth":1.5,"color":"#222"},"encoding":{"x":{"field":"a","type":"quantitative"},"x2":{"field":"b2"},"y":{"datum":0.325,"type":"quantitative"}}},
 {"data":{"name":"grp"},"transform":[{"calculate":"(datum.lo*1.22-1.15+datum.hi*1.15)/2","as":"c"}],"mark":{"type":"text","fontSize":4.6,"fontWeight":"bold","baseline":"middle"},"encoding":{"x":{"field":"c","type":"quantitative"},"y":{"datum":0.206,"type":"quantitative"},"text":{"field":"t"}}}
 ]}]}
],"spacing":6}
],"spacing":-4},
{"hconcat":[
{"title":{"text":"D","orient":"left","anchor":"end","angle":0,"align":"left","baseline":"top","fontSize":13,"fontWeight":"bold","offset":21,"dy":-13},
 "vconcat":[{"width":89,"height":90,"title":{"text":"RBD MSD Pfizer Short","fontSize":8.2,"fontWeight":"bold","offset":1,"frame":"group"},
 "layer":[
 {"data":{"name":"D"},"transform":[{"calculate":"floor(log(datum.v)/LN10/0.31)","as":"b"},{"window":[{"op":"row_number","as":"r"}],"groupby":["g","b"],"sort":[{"field":"v","order":"descending"}]},{"calculate":"datum.g+[0,1,-1,2,-2,0.5,-0.5,1.5,-1.5][(datum.r-1)%9]*0.18","as":"x"}],
  "mark":{"type":"circle","size":13,"opacity":1},
  "encoding":{"x":{"field":"x","type":"quantitative","scale":{"domain":[0.5,6.9],"nice":false,"zero":false}},
  "y":{"field":"v","type":"quantitative","scale":{"type":"log","domain":[1,10000000],"nice":false},"axis":{"values":[1,10,100,1000,10000,100000,1000000,10000000],"labelExpr":"'10'+['⁰','¹','²','³','⁴','⁵','⁶','⁷'][round(log(datum.value)/LN10)]","title":"AU/ml (log₁₀)","titleFontSize":9,"titleFontWeight":"bold","titlePadding":2,"labelFontSize":6.5,"labelFontWeight":"bold","labelPadding":1,"tickSize":2}},
  "color":{"condition":{"test":"datum.g<=3","value":"#bfbfbf"},"value":"#ff0000"}}},
 {"data":{"values":[{}]},"mark":{"type":"rule","color":"#333","strokeWidth":1.5},"encoding":{"x":{"datum":3.5,"type":"quantitative"}}},
 {"data":{"values":[{"g":1,"m":8.5e4},{"g":2,"m":2e4},{"g":3,"m":2.8e5},{"g":4,"m":2.5e5},{"g":5,"m":6e4},{"g":6,"m":2e5}]},"mark":{"type":"tick","orient":"horizontal","size":11,"thickness":1.5,"color":"#000"},"encoding":{"x":{"field":"g","type":"quantitative"},"y":{"field":"m","type":"quantitative"}}},
 {"data":{"name":"xl"},"mark":{"type":"text","fontSize":3.4,"lineBreak":"\n","baseline":"top","lineHeight":4},"encoding":{"x":{"field":"g","type":"quantitative"},"y":{"datum":0.7,"type":"quantitative"},"text":{"field":"t"}}},
 {"data":{"name":"grp"},"transform":[{"calculate":"datum.lo*1.22-1.15","as":"a"},{"calculate":"datum.hi*1.15","as":"b2"}],"mark":{"type":"rule","strokeWidth":1.5,"color":"#222"},"encoding":{"x":{"field":"a","type":"quantitative"},"x2":{"field":"b2"},"y":{"datum":0.098,"type":"quantitative"}}},
 {"data":{"name":"grp"},"transform":[{"calculate":"(datum.lo*1.22-1.15+datum.hi*1.15)/2","as":"c"}],"mark":{"type":"text","fontSize":4.6,"fontWeight":"bold","baseline":"middle"},"encoding":{"x":{"field":"c","type":"quantitative"},"y":{"datum":0.036,"type":"quantitative"},"text":{"field":"t"}}}
 ]}]},
{"hconcat":[
{"title":{"text":"E","orient":"left","anchor":"end","angle":0,"align":"left","baseline":"top","fontSize":13,"fontWeight":"bold","offset":12,"dy":-13},
 "vconcat":[{"width":85,"height":90,"title":{"text":"RBD MSD Pfizer Long","fontSize":8.2,"fontWeight":"bold","offset":1,"frame":"group"},
 "layer":[
 {"data":{"name":"E"},"transform":[{"calculate":"floor(log(datum.v)/LN10/0.31)","as":"b"},{"window":[{"op":"row_number","as":"r"}],"groupby":["g","b"],"sort":[{"field":"v","order":"descending"}]},{"calculate":"datum.g+[0,1,-1,2,-2,0.5,-0.5,1.5,-1.5][(datum.r-1)%9]*0.18","as":"x"}],
  "mark":{"type":"circle","size":13,"opacity":1},
  "encoding":{"x":{"field":"x","type":"quantitative","scale":{"domain":[0.5,6.9],"nice":false,"zero":false}},
  "y":{"field":"v","type":"quantitative","scale":{"type":"log","domain":[1,10000000],"nice":false},"axis":{"values":[1,10,100,1000,10000,100000,1000000,10000000],"labelExpr":"'10'+['⁰','¹','²','³','⁴','⁵','⁶','⁷'][round(log(datum.value)/LN10)]","title":"AU/ml (log₁₀)","titleFontSize":9,"titleFontWeight":"bold","titlePadding":2,"labelFontSize":6.5,"labelFontWeight":"bold","labelPadding":1,"tickSize":2}},
  "color":{"condition":{"test":"datum.g<=3","value":"#bfbfbf"},"value":"#ff0000"}}},
 {"data":{"values":[{}]},"mark":{"type":"rule","color":"#333","strokeWidth":1.5},"encoding":{"x":{"datum":3.5,"type":"quantitative"}}},
 {"data":{"values":[{"g":1,"m":1.5e5},{"g":2,"m":2.2e4},{"g":3,"m":1.5e5},{"g":4,"m":2e5},{"g":5,"m":6e4},{"g":6,"m":1.7e5}]},"mark":{"type":"tick","orient":"horizontal","size":11,"thickness":1.5,"color":"#000"},"encoding":{"x":{"field":"g","type":"quantitative"},"y":{"field":"m","type":"quantitative"}}},
 {"data":{"name":"xl"},"mark":{"type":"text","fontSize":3.4,"lineBreak":"\n","baseline":"top","lineHeight":4},"encoding":{"x":{"field":"g","type":"quantitative"},"y":{"datum":0.7,"type":"quantitative"},"text":{"field":"t"}}},
 {"data":{"name":"grp"},"transform":[{"calculate":"datum.lo*1.22-1.15","as":"a"},{"calculate":"datum.hi*1.15","as":"b2"}],"mark":{"type":"rule","strokeWidth":1.5,"color":"#222"},"encoding":{"x":{"field":"a","type":"quantitative"},"x2":{"field":"b2"},"y":{"datum":0.098,"type":"quantitative"}}},
 {"data":{"name":"grp"},"transform":[{"calculate":"(datum.lo*1.22-1.15+datum.hi*1.15)/2","as":"c"}],"mark":{"type":"text","fontSize":4.6,"fontWeight":"bold","baseline":"middle"},"encoding":{"x":{"field":"c","type":"quantitative"},"y":{"datum":0.036,"type":"quantitative"},"text":{"field":"t"}}}
 ]}]},
{"title":{"text":"F","orient":"left","anchor":"end","angle":0,"align":"left","baseline":"top","fontSize":13,"fontWeight":"bold","offset":-4,"dy":-8},
 "vconcat":[{"width":87,"height":90,"title":{"text":"RBD MSD AZ","fontSize":8.2,"fontWeight":"bold","offset":1,"frame":"group"},
 "layer":[
 {"data":{"name":"F"},"transform":[{"calculate":"floor(log(datum.v)/LN10/0.31)","as":"b"},{"window":[{"op":"row_number","as":"r"}],"groupby":["g","b"],"sort":[{"field":"v","order":"descending"}]},{"calculate":"datum.g+[0,1,-1,2,-2,0.5,-0.5,1.5,-1.5][(datum.r-1)%9]*0.18","as":"x"}],
  "mark":{"type":"circle","size":13,"opacity":1},
  "encoding":{"x":{"field":"x","type":"quantitative","scale":{"domain":[0.5,6.9],"nice":false,"zero":false}},
  "y":{"field":"v","type":"quantitative","scale":{"type":"log","domain":[1,10000000],"nice":false},"axis":{"values":[1,10,100,1000,10000,100000,1000000,10000000],"labelExpr":"'10'+['⁰','¹','²','³','⁴','⁵','⁶','⁷'][round(log(datum.value)/LN10)]","title":"AU/ml (log₁₀)","titleFontSize":9,"titleFontWeight":"bold","titlePadding":2,"labelFontSize":6.5,"labelFontWeight":"bold","labelPadding":1,"tickSize":2}},
  "color":{"condition":{"test":"datum.g<=3","value":"#bfbfbf"},"value":"#ff0000"}}},
 {"data":{"values":[{}]},"mark":{"type":"rule","color":"#333","strokeWidth":1.5},"encoding":{"x":{"datum":3.5,"type":"quantitative"}}},
 {"data":{"values":[{"g":1,"m":1.8e4},{"g":2,"m":7e3},{"g":3,"m":1.8e5},{"g":4,"m":9e4},{"g":5,"m":2e4},{"g":6,"m":2.8e5}]},"mark":{"type":"tick","orient":"horizontal","size":11,"thickness":1.5,"color":"#000"},"encoding":{"x":{"field":"g","type":"quantitative"},"y":{"field":"m","type":"quantitative"}}},
 {"data":{"name":"xl"},"mark":{"type":"text","fontSize":3.4,"lineBreak":"\n","baseline":"top","lineHeight":4},"encoding":{"x":{"field":"g","type":"quantitative"},"y":{"datum":0.7,"type":"quantitative"},"text":{"field":"t"}}},
 {"data":{"name":"grp"},"transform":[{"calculate":"datum.lo*1.22-1.15","as":"a"},{"calculate":"datum.hi*1.15","as":"b2"}],"mark":{"type":"rule","strokeWidth":1.5,"color":"#222"},"encoding":{"x":{"field":"a","type":"quantitative"},"x2":{"field":"b2"},"y":{"datum":0.098,"type":"quantitative"}}},
 {"data":{"name":"grp"},"transform":[{"calculate":"(datum.lo*1.22-1.15+datum.hi*1.15)/2","as":"c"}],"mark":{"type":"text","fontSize":4.6,"fontWeight":"bold","baseline":"middle"},"encoding":{"x":{"field":"c","type":"quantitative"},"y":{"datum":0.036,"type":"quantitative"},"text":{"field":"t"}}}
 ]}]}
],"spacing":24}
],"spacing":-3},
{"hconcat":[
{"title":{"text":"G","orient":"left","anchor":"end","angle":0,"align":"left","baseline":"top","fontSize":13,"fontWeight":"bold","offset":19,"dy":-14},
 "vconcat":[{"width":89,"height":88,"title":{"text":"N MSD Pfizer Short","fontSize":8.2,"fontWeight":"bold","offset":5,"frame":"group"},
 "layer":[
 {"data":{"name":"G"},"transform":[{"calculate":"floor(log(datum.v)/LN10/0.31)","as":"b"},{"window":[{"op":"row_number","as":"r"}],"groupby":["g","b"],"sort":[{"field":"v","order":"descending"}]},{"calculate":"datum.g+[0,1,-1,2,-2,0.5,-0.5,1.5,-1.5][(datum.r-1)%9]*0.18","as":"x"}],
  "mark":{"type":"circle","size":13,"opacity":1},
  "encoding":{"x":{"field":"x","type":"quantitative","scale":{"domain":[0.5,6.9],"nice":false,"zero":false}},
  "y":{"field":"v","type":"quantitative","scale":{"type":"log","domain":[1,10000000],"nice":false},"axis":{"values":[1,10,100,1000,10000,100000,1000000,10000000],"labelExpr":"'10'+['⁰','¹','²','³','⁴','⁵','⁶','⁷'][round(log(datum.value)/LN10)]","title":"AU/ml (log₁₀)","titleFontSize":9,"titleFontWeight":"bold","titlePadding":2,"labelFontSize":6.5,"labelFontWeight":"bold","labelPadding":1,"tickSize":2}},
  "color":{"condition":{"test":"datum.g<=3","value":"#bfbfbf"},"value":"#ff0000"}}},
 {"data":{"values":[{}]},"mark":{"type":"rule","color":"#333","strokeWidth":1.5},"encoding":{"x":{"datum":3.5,"type":"quantitative"}}},
 {"data":{"values":[{"g":1,"m":300},{"g":2,"m":300},{"g":3,"m":1800},{"g":4,"m":7000},{"g":5,"m":2500},{"g":6,"m":2500}]},"mark":{"type":"tick","orient":"horizontal","size":11,"thickness":1.5,"color":"#000"},"encoding":{"x":{"field":"g","type":"quantitative"},"y":{"field":"m","type":"quantitative"}}},
 {"data":{"name":"xl"},"mark":{"type":"text","fontSize":3.4,"lineBreak":"\n","baseline":"top","lineHeight":4},"encoding":{"x":{"field":"g","type":"quantitative"},"y":{"datum":0.69,"type":"quantitative"},"text":{"field":"t"}}},
 {"data":{"name":"grp"},"transform":[{"calculate":"datum.lo*1.22-1.15","as":"a"},{"calculate":"datum.hi*1.15","as":"b2"}],"mark":{"type":"rule","strokeWidth":1.5,"color":"#222"},"encoding":{"x":{"field":"a","type":"quantitative"},"x2":{"field":"b2"},"y":{"datum":0.092,"type":"quantitative"}}},
 {"data":{"name":"grp"},"transform":[{"calculate":"(datum.lo*1.22-1.15+datum.hi*1.15)/2","as":"c"}],"mark":{"type":"text","fontSize":4.6,"fontWeight":"bold","baseline":"middle"},"encoding":{"x":{"field":"c","type":"quantitative"},"y":{"datum":0.044,"type":"quantitative"},"text":{"field":"t"}}}
 ]}]},
{"hconcat":[
{"title":{"text":"H","orient":"left","anchor":"end","angle":0,"align":"left","baseline":"top","fontSize":13,"fontWeight":"bold","offset":2,"dy":-12},
 "vconcat":[{"width":88,"height":88,"title":{"text":"N MSD Pfizer Long","fontSize":8.2,"fontWeight":"bold","offset":5,"frame":"group"},
 "layer":[
 {"data":{"name":"H"},"transform":[{"calculate":"floor(log(datum.v)/LN10/0.31)","as":"b"},{"window":[{"op":"row_number","as":"r"}],"groupby":["g","b"],"sort":[{"field":"v","order":"descending"}]},{"calculate":"datum.g+[0,1,-1,2,-2,0.5,-0.5,1.5,-1.5][(datum.r-1)%9]*0.18","as":"x"}],
  "mark":{"type":"circle","size":13,"opacity":1},
  "encoding":{"x":{"field":"x","type":"quantitative","scale":{"domain":[0.5,6.9],"nice":false,"zero":false}},
  "y":{"field":"v","type":"quantitative","scale":{"type":"log","domain":[1,10000000],"nice":false},"axis":{"values":[1,10,100,1000,10000,100000,1000000,10000000],"labelExpr":"'10'+['⁰','¹','²','³','⁴','⁵','⁶','⁷'][round(log(datum.value)/LN10)]","title":"AU/ml (log₁₀)","titleFontSize":9,"titleFontWeight":"bold","titlePadding":2,"labelFontSize":6.5,"labelFontWeight":"bold","labelPadding":1,"tickSize":2}},
  "color":{"condition":{"test":"datum.g<=3","value":"#bfbfbf"},"value":"#ff0000"}}},
 {"data":{"values":[{}]},"mark":{"type":"rule","color":"#333","strokeWidth":1.5},"encoding":{"x":{"datum":3.5,"type":"quantitative"}}},
 {"data":{"values":[{"g":1,"m":650},{"g":2,"m":500},{"g":3,"m":300},{"g":4,"m":5000},{"g":5,"m":3800},{"g":6,"m":4500}]},"mark":{"type":"tick","orient":"horizontal","size":11,"thickness":1.5,"color":"#000"},"encoding":{"x":{"field":"g","type":"quantitative"},"y":{"field":"m","type":"quantitative"}}},
 {"data":{"name":"xl"},"mark":{"type":"text","fontSize":3.4,"lineBreak":"\n","baseline":"top","lineHeight":4},"encoding":{"x":{"field":"g","type":"quantitative"},"y":{"datum":0.69,"type":"quantitative"},"text":{"field":"t"}}},
 {"data":{"name":"grp"},"transform":[{"calculate":"datum.lo*1.22-1.15","as":"a"},{"calculate":"datum.hi*1.15","as":"b2"}],"mark":{"type":"rule","strokeWidth":1.5,"color":"#222"},"encoding":{"x":{"field":"a","type":"quantitative"},"x2":{"field":"b2"},"y":{"datum":0.092,"type":"quantitative"}}},
 {"data":{"name":"grp"},"transform":[{"calculate":"(datum.lo*1.22-1.15+datum.hi*1.15)/2","as":"c"}],"mark":{"type":"text","fontSize":4.6,"fontWeight":"bold","baseline":"middle"},"encoding":{"x":{"field":"c","type":"quantitative"},"y":{"datum":0.044,"type":"quantitative"},"text":{"field":"t"}}}
 ]}]},
{"title":{"text":"I","orient":"left","anchor":"end","angle":0,"align":"left","baseline":"top","fontSize":13,"fontWeight":"bold","offset":-6,"dy":-16},
 "vconcat":[{"width":88,"height":88,"title":{"text":"N MSD AZ","fontSize":8.2,"fontWeight":"bold","offset":5,"frame":"group"},
 "layer":[
 {"data":{"name":"I"},"transform":[{"calculate":"floor(log(datum.v)/LN10/0.31)","as":"b"},{"window":[{"op":"row_number","as":"r"}],"groupby":["g","b"],"sort":[{"field":"v","order":"descending"}]},{"calculate":"datum.g+[0,1,-1,2,-2,0.5,-0.5,1.5,-1.5][(datum.r-1)%9]*0.18","as":"x"}],
  "mark":{"type":"circle","size":13,"opacity":1},
  "encoding":{"x":{"field":"x","type":"quantitative","scale":{"domain":[0.5,6.9],"nice":false,"zero":false}},
  "y":{"field":"v","type":"quantitative","scale":{"type":"log","domain":[1,10000000],"nice":false},"axis":{"values":[1,10,100,1000,10000,100000,1000000,10000000],"labelExpr":"'10'+['⁰','¹','²','³','⁴','⁵','⁶','⁷'][round(log(datum.value)/LN10)]","title":"AU/ml (log₁₀)","titleFontSize":9,"titleFontWeight":"bold","titlePadding":2,"labelFontSize":6.5,"labelFontWeight":"bold","labelPadding":1,"tickSize":2}},
  "color":{"condition":{"test":"datum.g<=3","value":"#bfbfbf"},"value":"#ff0000"}}},
 {"data":{"values":[{}]},"mark":{"type":"rule","color":"#333","strokeWidth":1.5},"encoding":{"x":{"datum":3.5,"type":"quantitative"}}},
 {"data":{"values":[{"g":1,"m":190},{"g":2,"m":250},{"g":3,"m":400},{"g":4,"m":2500},{"g":5,"m":3800},{"g":6,"m":1900}]},"mark":{"type":"tick","orient":"horizontal","size":11,"thickness":1.5,"color":"#000"},"encoding":{"x":{"field":"g","type":"quantitative"},"y":{"field":"m","type":"quantitative"}}},
 {"data":{"name":"xl"},"mark":{"type":"text","fontSize":3.4,"lineBreak":"\n","baseline":"top","lineHeight":4},"encoding":{"x":{"field":"g","type":"quantitative"},"y":{"datum":0.69,"type":"quantitative"},"text":{"field":"t"}}},
 {"data":{"name":"grp"},"transform":[{"calculate":"datum.lo*1.22-1.15","as":"a"},{"calculate":"datum.hi*1.15","as":"b2"}],"mark":{"type":"rule","strokeWidth":1.5,"color":"#222"},"encoding":{"x":{"field":"a","type":"quantitative"},"x2":{"field":"b2"},"y":{"datum":0.092,"type":"quantitative"}}},
 {"data":{"name":"grp"},"transform":[{"calculate":"(datum.lo*1.22-1.15+datum.hi*1.15)/2","as":"c"}],"mark":{"type":"text","fontSize":4.6,"fontWeight":"bold","baseline":"middle"},"encoding":{"x":{"field":"c","type":"quantitative"},"y":{"datum":0.044,"type":"quantitative"},"text":{"field":"t"}}}
 ]}]}
],"spacing":23}
],"spacing":5}
],
"spacing":17
}
